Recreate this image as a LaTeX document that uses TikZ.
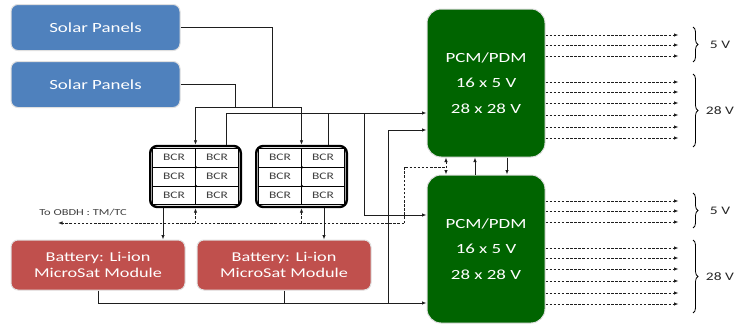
\documentclass[tikz,border=0pt]{standalone}
\usepackage{fontspec}
\setmainfont{Carlito}[FakeStretch=1.35]
\usetikzlibrary{arrows.meta,matrix,decorations.pathreplacing}
\definecolor{panelblue}{RGB}{79,129,189}
\definecolor{battred}{RGB}{192,80,77}
\definecolor{pcmgreen}{RGB}{0,100,0}
\definecolor{wiregray}{RGB}{30,30,30}

\begin{document}
\begin{tikzpicture}[
		x=1pt, y=-1pt,
		>={Latex[length=4.5pt,width=3.5pt]},
		boxnode/.style={shape=rectangle, rounded corners=7pt, align=center, text=white, draw=black!12, line width=1pt, font=\fontsize{14}{17}\selectfont},
		panelnode/.style={boxnode, fill=panelblue, minimum width=169pt, minimum height=46pt},
		battnode/.style={boxnode, fill=battred, minimum width=174pt, minimum height=50pt, font=\fontsize{13.5}{16}\selectfont},
		pcmnode/.style={boxnode, fill=pcmgreen, rounded corners=14pt, minimum width=118pt, minimum height=148pt, font=\fontsize{14}{25.5}\selectfont},
		bcrcell/.style={draw=black, line width=0.6pt, sharp corners, minimum width=43pt, minimum height=18.8pt, inner sep=0pt, text=black!75, font=\fontsize{10}{10}\selectfont},
		bcrbox/.style={matrix of nodes, draw=black, line width=2.4pt, rounded corners=7pt, fill=white, inner sep=2pt, column sep=-0.6pt, row sep=-0.6pt, nodes={bcrcell}},
		wire/.style={draw=wiregray, line width=0.8pt},
		sigwire/.style={wire, dash pattern=on 2.5pt off 1.6pt},
		outwire/.style={sigwire, ->},
		volt/.style={font=\fontsize{11.5}{13}\selectfont, text=black!85},
		brace/.style={draw=black, line width=0.8pt, decorate, decoration={brace, amplitude=5pt}}
		]
		\useasboundingbox (0,0) rectangle (739,324);

		\node[panelnode] (sp1) at (95.5,27.5) {Solar Panels};
		\node[panelnode] (sp2) at (95.5,84.5) {Solar Panels};
		\matrix (bcr1) [bcrbox] at (195.5,176.5) {BCR & BCR \\ BCR & BCR \\ BCR & BCR \\};
		\matrix (bcr2) [bcrbox] at (301.5,176.5) {BCR & BCR \\ BCR & BCR \\ BCR & BCR \\};
		\node[battnode] (bat1) at (98,265) {Battery: Li-ion\\MicroSat Module};
		\node[battnode] (bat2) at (284,265) {Battery: Li-ion\\MicroSat Module};
		\node[pcmnode] (pcm1) at (486,83) {PCM/PDM\\16 x 5 V\\28 x 28 V};
		\node[pcmnode] (pcm2) at (486,249) {PCM/PDM\\16 x 5 V\\28 x 28 V};
		\node[font=\fontsize{9.2}{10}\selectfont, text=black!75] (obdhtext) at (83,212) {To OBDH : TM/TC};

		\foreach \b in {bcr1,bcr2}{
			\fill (\b-1-1.south east) circle (1.4pt);
			\fill (\b-2-1.south east) circle (1.4pt);
		}

		\coordinate (sa) at (272,107);
		\coordinate (sb) at (235,107);
		\coordinate (ja) at (226,113);
		\coordinate (jb) at (328,113);
		\coordinate (jc) at (364,113);
		\coordinate (jd) at (364,215);
		\coordinate (je) at (388,130);
		\coordinate (jf) at (388,303);
		\coordinate (obdh) at (58,223);
		\coordinate (ka) at (404,223);
		\coordinate (kb) at (404,167);
		\coordinate (kc) at (446,167);
		\coordinate (bd1) at (163,0);
		\coordinate (bd2) at (324,0);
		\coordinate (la) at (475,0);
		\coordinate (lb) at (507,0);

		\draw[wire] (sp1.east) -| (sa);
		\draw[wire] (sp2.east) -| (sb);
		\draw[wire,->] (sa) -| (bcr1.north);
		\draw[wire,->] (sb) -| (bcr2.north);
		\draw[wire,->] (bcr1.north -| ja) -- (ja) -- (pcm1.west |- ja);
		\draw[wire] (bcr2.north -| jb) -- (jb);
		\draw[wire,->] (jc) -- (jd) -- (pcm2.west |- jd);
		\draw[wire,->] (jf) -- (je) -- (pcm1.west |- je);
		\draw[wire,->] (bat1.south) |- (pcm2.west |- jf);
		\draw[wire] (bat2.south) -- (bat2.south |- jf);
		\draw[wire,->] (bcr1.south -| bd1) -- (bat1.north -| bd1);
		\draw[wire,->] (bcr2.south -| bd2) -- (bat2.north -| bd2);
		\draw[sigwire,->] (ka) -- (obdh);
		\draw[sigwire] (ka) -- (kb) -- (kc);
		\draw[sigwire,<->] (pcm1.south -| kc) -- (pcm2.north -| kc);
		\draw[sigwire,->] (bcr1.south |- obdh) -- (bcr1.south);
		\draw[sigwire,->] (bcr2.south |- obdh) -- (bcr2.south);
		\draw[wire,->] (pcm2.north -| la) -- (pcm1.south -| la);
		\draw[wire,->] (pcm1.south -| lb) -- (pcm2.north -| lb);

		\foreach \p in {pcm1,pcm2}{
			\foreach \dy in {48,38,27,1,-9,-20,-32,-44,-55}
				\draw[outwire] ([yshift=\dy pt]\p.east) -- ++(133,0);
			\draw[brace] ([xshift=207pt,yshift=56pt]\p.center) -- ([xshift=207pt,yshift=21pt]\p.center)
				node[midway, volt, xshift=27pt] (\p-5v) {5 V};
			\draw[brace] ([xshift=207pt,yshift=9pt]\p.center) -- ([xshift=207pt,yshift=-64pt]\p.center)
				node[midway, volt, xshift=27pt] (\p-28v) {28 V};
		}
	\end{tikzpicture}
\end{document}
